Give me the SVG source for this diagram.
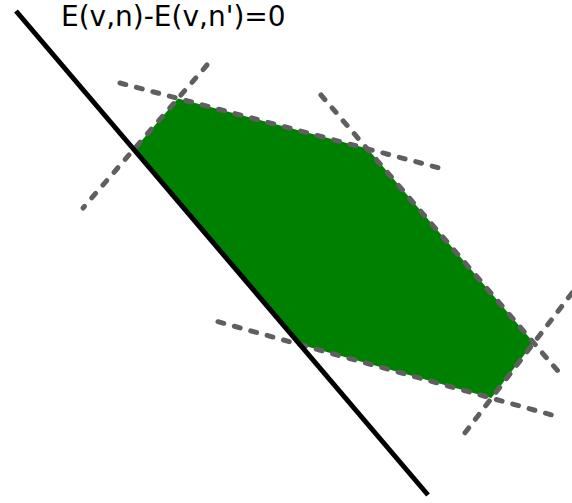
<svg xmlns="http://www.w3.org/2000/svg" width="572" height="503" viewBox="0 0 572 503">
<style>
.dash{fill:none;stroke:#5f5f5f;stroke-width:5;stroke-linecap:round;stroke-dasharray:6 11}
.lbl{font-family:"DejaVu Sans",Verdana,sans-serif;font-size:28px;fill:#000}
</style>
<rect width="572" height="503" fill="#fff"/>
<g id="region">
<polygon points="178,98.5 367.5,148.4 533.6,342.6 491.3,398 299.9,344.6 134,149.6" fill="#008000"/>
</g>
<g id="connectors">
<line class="dash" x1="120" y1="83" x2="447" y2="170"/>
<line class="dash" x1="207" y1="65" x2="83" y2="208"/>
<line class="dash" x1="321" y1="95" x2="563" y2="377"/>
<line class="dash" x1="572" y1="293" x2="461" y2="438"/>
<line class="dash" x1="218" y1="321.7" x2="558" y2="416.7"/>
<line x1="16" y1="11" x2="428" y2="495" stroke="#000" stroke-width="5"/>
</g>
<g id="label">
<text class="lbl" x="61" y="26">E(v,n)-E(v,n')=0</text>
</g>
</svg>
